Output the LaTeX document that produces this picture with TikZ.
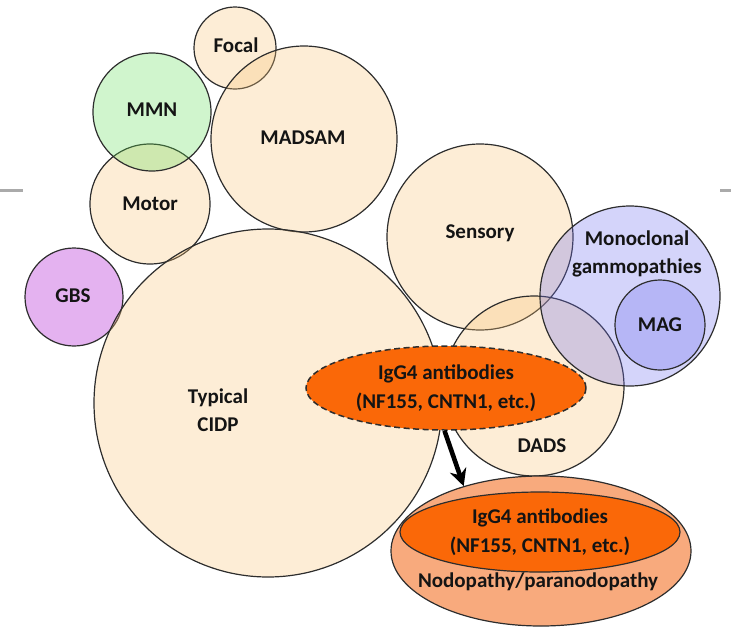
\documentclass[tikz,border=0pt]{standalone}
\usepackage{fontspec}
\setmainfont{Carlito}
\usetikzlibrary{shapes.geometric,arrows.meta}
\definecolor{beigec}{RGB}{248,195,118}
\definecolor{greenc}{RGB}{98,222,88}
\definecolor{lavc}{RGB}{112,112,238}
\definecolor{gbsc}{RGB}{165,0,205}
\definecolor{linec}{RGB}{45,45,45}
\definecolor{txtc}{RGB}{20,20,20}
\definecolor{orangec}{RGB}{250,104,8}
\definecolor{lightorc}{RGB}{248,170,125}
\definecolor{rulec}{RGB}{170,170,170}
\begin{document}
\begin{tikzpicture}[x=1pt,y=-1pt,
  circ/.style={circle, draw=linec, line width=1.2pt, fill opacity=0.3, inner sep=0pt},
  lbl/.style={font=\fontsize{21}{28}\selectfont\bfseries, text=txtc, align=center, inner sep=0pt},
  ell/.style={ellipse, draw=linec, line width=1.2pt, inner sep=0pt, align=center,
     font=\fontsize{21}{29}\selectfont\bfseries, text=txtc},
  bigarrow/.style={line width=4.6pt, draw=black, -{Stealth[length=17pt,width=17pt]}},
  rulel/.style={draw=rulec, line width=2.5pt}
]
\useasboundingbox (0,0) rectangle (731,627);

% side rules
\coordinate (rl1) at (0,190.7);
\coordinate (rl2) at (23,190.7);
\coordinate (rr1) at (720,190.7);
\coordinate (rr2) at (731,190.7);
\draw[rulel] (rl1) -- (rl2);
\draw[rulel] (rr1) -- (rr2);

% circles
\node[circ, fill=beigec, minimum size=82pt] (focal) at (235,48) {};
\node[circ, fill=beigec, minimum size=186pt] (madsam) at (304,139) {};
\node[circ, fill=beigec, minimum size=120pt] (motor) at (150,204) {};
\node[circ, fill=greenc, minimum size=118pt] (mmn) at (152,112) {};
\node[circ, fill=gbsc, minimum size=98pt] (gbs) at (74,297) {};
\node[circ, fill=beigec, minimum size=348pt] (cidp) at (268,403) {};
\node[circ, fill=beigec, minimum size=186pt] (sensory) at (480,237) {};
\node[circ, fill=beigec, minimum size=180pt] (dads) at (534,386) {};
\node[circ, fill=lavc, minimum size=180pt] (mono) at (630,296) {};
\node[circ, fill=lavc, minimum size=90pt] (mag) at (660,325) {};

% labels
\node[lbl] (tfocal) at (236,45) {Focal};
\node[lbl] (tmadsam) at (303,138) {MADSAM};
\node[lbl] (tmmn) at (152,110) {MMN};
\node[lbl] (tmotor) at (150,204) {Motor};
\node[lbl] (tgbs) at (73,296) {GBS};
\node[lbl] (tcidp) at (218,410) {Typical\\CIDP};
\node[lbl] (tsens) at (480,233) {Sensory};
\node[lbl] (tdads) at (542,446) {DADS};
\node[lbl] (tmono) at (637,254) {Monoclonal\\gammopathies};
\node[lbl] (tmag) at (660,325) {MAG};

% IgG4 dashed ellipse
\node[ell, fill=orangec, dashed, dash pattern=on 6pt off 3.5pt, line width=1.5pt,
      minimum width=280pt, minimum height=84pt] (igg) at (446,388)
      {IgG4 antibodies\\(NF155, CNTN1, etc.)};

% Nodopathy
\node[ell, fill=lightorc, minimum width=300pt, minimum height=150pt] (nodo) at (541,551) {};
\node[ell, fill=orangec, minimum width=280pt, minimum height=80pt] (nodoin) at (540,532)
      {IgG4 antibodies\\(NF155, CNTN1, etc.)};
\node[lbl] (tnodo) at (538,582) {Nodopathy/paranodopathy};

% arrow
\draw[bigarrow] (igg.268) -- (nodo.140);
\end{tikzpicture}
\end{document}
